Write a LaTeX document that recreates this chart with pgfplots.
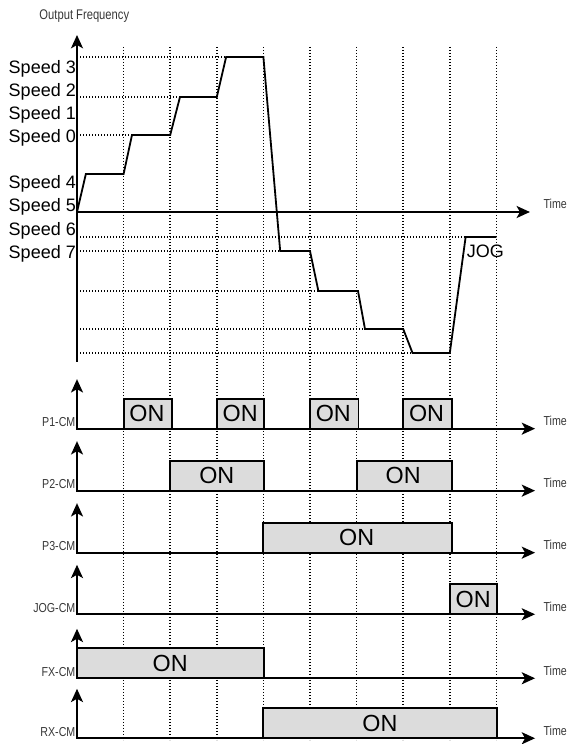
\documentclass[border=0pt]{standalone}
\usepackage{pgfplots}
\pgfplotsset{compat=1.18}
\usepackage{graphicx}
\usepackage{fontspec}
\setmainfont{Liberation Sans}
\usetikzlibrary{arrows.meta}
\definecolor{boxgray}{RGB}{220,220,220}
\definecolor{lblgray}{RGB}{55,55,55}
\tikzset{
  axarrow/.style={line width=1.5pt, -{Stealth[length=10pt,width=9pt,inset=2.5pt]}},
  dots/.style={line width=1.15pt, dash pattern=on 1.1pt off 1.15pt, black},
}
\newcommand{\lbl}[1]{\scalebox{0.82}[1]{\fontsize{9.75pt}{10pt}\selectfont\color{lblgray}#1}}
\newcommand{\spd}[1]{{\fontsize{13.5pt}{14pt}\selectfont #1}}
\newcommand{\onbox}[3]{%
  \addplot[fill=boxgray, draw=black, line width=1.4pt] coordinates {(#1,0) (#1,1) (#2,1) (#2,0)} \closedcycle;
  \node[inner sep=0] at (axis cs:#3,0.5) {\fontsize{17.5pt}{18pt}\selectfont ON};
}
\pgfplotsset{
  base/.style={scale only axis, x=34.95pt, xmin=-1.6524, xmax=10.5579, hide axis, clip=false, anchor=south west},
  sig/.style={base, y=22.5pt, ymin=0, ymax=1},
}
\newcommand{\sigaxes}[1]{%
  \draw[axarrow] (axis cs:0,-0.02) -- (axis cs:0,1.65);
  \draw[axarrow] (axis cs:-0.02,0) -- (axis cs:9.83,0);
  \node[anchor=base east, inner sep=0] at (axis cs:-0.03,0.07) {\lbl{#1}};
  \node[anchor=base west, inner sep=0] at (axis cs:10.006,0.09) {\lbl{Time}};
}
\begin{document}
\begin{tikzpicture}
% ---------------- main panel: output frequency ----------------
\begin{axis}[base, at={(0pt,0pt)}, y=0.75pt, ymin=-532, ymax=212]
\pgfplotsinvokeforeach{1,...,9}{\draw[dots] (axis cs:#1,165) -- (axis cs:#1,-528);}
\addplot[dots] coordinates {(0,155) (4,155)};
\addplot[dots] coordinates {(0,115) (2.21,115)};
\addplot[dots] coordinates {(0,77) (1.18,77)};
\addplot[dots] coordinates {(0,-25) (8.34,-25)};
\addplot[dots] coordinates {(0,-39) (4.36,-39)};
\addplot[dots] coordinates {(0,-79) (5.18,-79)};
\addplot[dots] coordinates {(0,-117) (6.18,-117)};
\addplot[dots] coordinates {(0,-141) (7.2,-141)};
\addplot[black, line width=1.35pt] table {
t F
0 0
0.19 38
1.0 38
1.18 77
2.0 77
2.21 115
3.0 115
3.2 155
4.0 155
4.36 -39
5.0 -39
5.18 -79
6.03 -79
6.18 -117
7.0 -117
7.2 -141
8.0 -141
8.34 -25
9.0 -25
};
\draw[axarrow] (axis cs:0,-150) -- (axis cs:0,177);
\draw[axarrow] (axis cs:0,0) -- (axis cs:9.72,0);
\node[anchor=base, inner sep=0] at (axis cs:0.157,192) {\scalebox{0.8}[1]{\fontsize{10.5pt}{11pt}\selectfont\color{lblgray}Output Frequency}};
\node[anchor=base west, inner sep=0] at (axis cs:10.006,3) {\lbl{Time}};
\node[anchor=base east, inner sep=0] at (axis cs:-0.02,138.7) {\spd{Speed 3}};
\node[anchor=base east, inner sep=0] at (axis cs:-0.02,115.5) {\spd{Speed 2}};
\node[anchor=base east, inner sep=0] at (axis cs:-0.02,92.3) {\spd{Speed 1}};
\node[anchor=base east, inner sep=0] at (axis cs:-0.02,69) {\spd{Speed 0}};
\node[anchor=base east, inner sep=0] at (axis cs:-0.02,23) {\spd{Speed 4}};
\node[anchor=base east, inner sep=0] at (axis cs:-0.02,0) {\spd{Speed 5}};
\node[anchor=base east, inner sep=0] at (axis cs:-0.02,-23.5) {\spd{Speed 6}};
\node[anchor=base east, inner sep=0] at (axis cs:-0.02,-46.5) {\spd{Speed 7}};
\node[anchor=base west, inner sep=0] at (axis cs:8.36,-46) {\spd{JOG}};
\end{axis}
% ---------------- P1-CM ----------------
\begin{axis}[sig, at={(0pt,236.5pt)}]
\onbox{1}{2.04}{1.5}
\onbox{3}{4.02}{3.5}
\onbox{5}{6.04}{5.5}
\onbox{7}{8.04}{7.5}
\sigaxes{P1-CM}
\end{axis}
% ---------------- P2-CM ----------------
\begin{axis}[sig, at={(0pt,190.0pt)}]
\onbox{2}{4.02}{3}
\onbox{6}{8.04}{7}
\sigaxes{P2-CM}
\end{axis}
% ---------------- P3-CM ----------------
\begin{axis}[sig, at={(0pt,143.5pt)}]
\onbox{4}{8.04}{6}
\sigaxes{P3-CM}
\end{axis}
% ---------------- JOG-CM ----------------
\begin{axis}[sig, at={(0pt,97.3pt)}]
\onbox{8}{9.02}{8.5}
\sigaxes{JOG-CM}
\end{axis}
% ---------------- FX-CM ----------------
\begin{axis}[sig, at={(0pt,49.3pt)}]
\onbox{0}{4.02}{2}
\sigaxes{FX-CM}
\end{axis}
% ---------------- RX-CM ----------------
\begin{axis}[sig, at={(0pt,4.3pt)}]
\onbox{4}{9.02}{6.5}
\sigaxes{RX-CM}
\end{axis}
\pgfresetboundingbox
\path (0pt,0pt) rectangle (426.75pt,558pt);
\end{tikzpicture}
\end{document}
